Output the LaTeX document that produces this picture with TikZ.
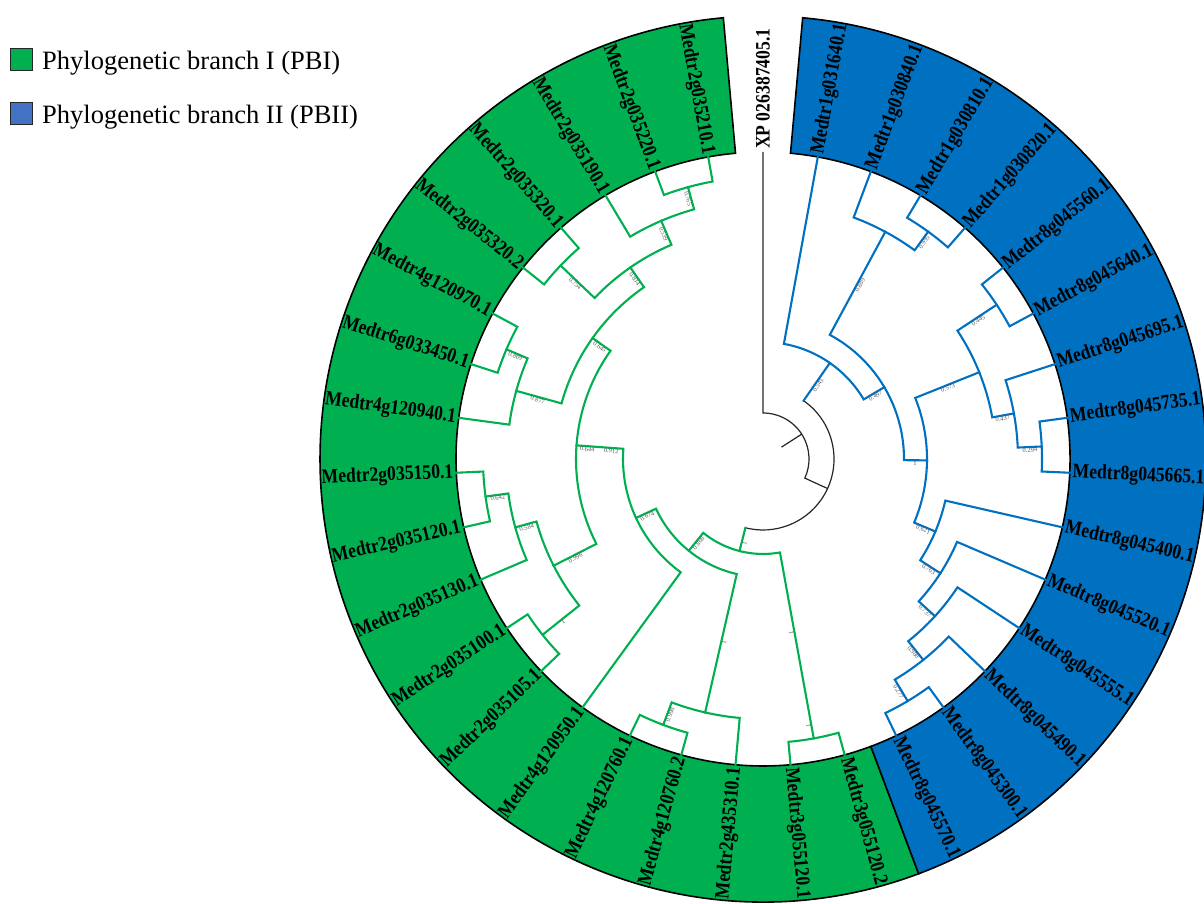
\documentclass[tikz,border=0pt]{standalone}
\usepackage{fontspec}
\setmainfont{Liberation Serif}
\definecolor{pbgreen}{HTML}{00B050}
\definecolor{pbblue}{HTML}{0070C0}
\definecolor{legblue}{HTML}{4472C4}
\newcommand\clade[5]{\draw (#2:#3) -- (#2:#1) arc[start angle=#2, end angle=#4, radius=#1] -- (#4:#5);}
\newcommand\boot[3]{\pgfmathsetmacro\bootrot{(cos(#1)<0)*180}\node[bootlab, rotate=#1-\bootrot] at (#1:#2) {#3};}
\tikzset{
  leaflab/.style={font=\fontsize{20.5}{22}\selectfont\bfseries, inner sep=1pt},
  bootlab/.style={font=\fontsize{6.5}{7}\selectfont, text=black!65, inner sep=0.6pt, anchor=north},
  ringline/.style={draw=black, line width=1.6pt},
  branch/.style={line width=2.1pt, line cap=rect},
  legbox/.style={draw=black!85, line width=1.3pt, minimum size=22pt, inner sep=0pt},
  legtext/.style={font=\fontsize{26.5}{30}\selectfont, anchor=base west, inner sep=0pt}
}
\begin{document}
\begin{tikzpicture}[x=1pt, y=1pt]
                \useasboundingbox (0,0) rectangle (1204,904);
                \node[legbox, fill=pbgreen] (key1) at (21.5,844.5) {};
                \node[legbox, fill=legblue] (key2) at (21.5,790.5) {};
                \node[legtext] (keytxt1) at (42,834) {Phylogenetic branch I (PBI)};
                \node[legtext] (keytxt2) at (42,780) {Phylogenetic branch II (PBII)};
                \begin{scope}[shift={(763,445)}]
                \filldraw[ringline, fill=pbgreen] (95.14:307) arc[start angle=95.14, end angle=290.57, radius=307] -- (290.57:443) arc[start angle=290.57, end angle=95.14, radius=443] -- cycle;
                \filldraw[ringline, fill=pbblue] (-69.43:307) arc[start angle=-69.43, end angle=84.86, radius=307] -- (84.86:443) arc[start angle=84.86, end angle=-69.43, radius=443] -- cycle;
                \begin{scope}[line width=1.2pt, draw=black!85]
                \draw (32.7:22) -- (32.7:46);
                \clade{46}{90}{307}{-24.59}{71}
                \draw (55.17:71) arc[start angle=55.17, end angle=-104.34, radius=71];
                \end{scope}
                \begin{scope}[branch, draw=pbblue]
                \draw (55.17:71) -- (55.17:117);
                \clade{117}{79.71}{307}{30.62}{141}
                \clade{141}{61.71}{258}{-0.48}{164}
                \clade{258}{69.43}{307}{54.00}{281}
                \clade{281}{59.14}{307}{48.86}{307}
                \clade{164}{21.86}{233}{-22.82}{187}
                \clade{233}{33.43}{280}{10.29}{255}
                \clade{280}{38.57}{307}{28.29}{307}
                \clade{255}{18.00}{307}{2.57}{279}
                \clade{279}{7.71}{307}{-2.57}{307}
                \clade{187}{-12.86}{307}{-32.79}{211}
                \clade{211}{-23.14}{307}{-42.43}{233}
                \clade{233}{-33.43}{307}{-51.43}{257}
                \clade{257}{-43.71}{307}{-59.14}{282}
                \clade{282}{-54.00}{307}{-64.29}{307}
                \end{scope}
                \begin{scope}[branch, draw=pbgreen]
                \draw (255.66:71) -- (255.66:95);
                \clade{95}{231.03}{118}{280.29}{284}
                \clade{284}{275.14}{307}{285.43}{307}
                \clade{118}{204.91}{140}{257.14}{260}
                \clade{260}{249.43}{284}{264.86}{307}
                \clade{284}{244.29}{307}{254.57}{307}
                \clade{140}{175.82}{187}{234.00}{307}
                \clade{187}{144.64}{209}{207.00}{235}
                \clade{209}{124.71}{233}{164.57}{256}
                \clade{233}{113.14}{259}{136.29}{280}
                \clade{259}{105.43}{282}{120.86}{307}
                \clade{282}{100.29}{307}{110.57}{307}
                \clade{280}{131.14}{307}{141.43}{307}
                \clade{256}{156.86}{279}{172.29}{307}
                \clade{279}{151.71}{307}{162.00}{307}
                \clade{235}{195.43}{257}{218.57}{282}
                \clade{257}{187.71}{280}{203.14}{307}
                \clade{280}{182.57}{307}{192.86}{307}
                \clade{282}{213.43}{307}{223.71}{307}
                \end{scope}
                \boot{55.17}{92}{0.543}
                \boot{30.62}{129}{0.497}
                \boot{61.71}{199}{0.889}
                \boot{54.00}{270}{0.995}
                \boot{-0.48}{152}{1}
                \boot{21.86}{198}{0.573}
                \boot{33.43}{256}{0.445}
                \boot{10.29}{243}{0.437}
                \boot{2.57}{267}{0.294}
                \boot{-22.82}{175}{0.621}
                \boot{-32.79}{199}{0.763}
                \boot{-42.43}{222}{0.737}
                \boot{-51.43}{245}{0.988}
                \boot{-59.14}{269}{0.277}
                \boot{255.66}{86}{1}
                \boot{231.03}{106}{0.868}
                \boot{204.91}{129}{0.674}
                \boot{175.82}{176}{0.644}
                \boot{175.82}{152}{0.912}
                \boot{144.64}{198}{0.645}
                \boot{124.71}{221}{0.834}
                \boot{113.14}{246}{0.539}
                \boot{105.43}{271}{0.765}
                \boot{136.29}{257}{0.754}
                \boot{164.57}{233}{0.877}
                \boot{156.86}{268}{0.869}
                \boot{207.00}{212}{0.996}
                \boot{195.43}{246}{0.584}
                \boot{187.71}{268}{0.642}
                \boot{218.57}{258}{1}
                \boot{257.14}{188}{1}
                \boot{249.43}{272}{0.998}
                \boot{280.29}{176}{1}
                \boot{280.29}{271}{1}
                \node[leaflab, anchor=west, rotate=90, xscale=0.86] (xp) at (90:309) {XP 026387405.1};
                \foreach \nm [count=\i] in {Medtr1g031640.1, Medtr1g030840.1, Medtr1g030810.1, Medtr1g030820.1, Medtr8g045560.1, Medtr8g045640.1, Medtr8g045695.1, Medtr8g045735.1, Medtr8g045665.1, Medtr8g045400.1, Medtr8g045520.1, Medtr8g045555.1, Medtr8g045490.1, Medtr8g045300.1, Medtr8g045570.1}{
                  \pgfmathsetmacro\la{90-\i*360/35}
                  \node[leaflab, anchor=west, rotate=\la, xscale=0.86] (b\i) at (\la:309) {\nm};
                }
                \foreach \nm [count=\i] in {Medtr2g035210.1, Medtr2g035220.1, Medtr2g035190.1, Medtr2g035320.1, Medtr2g035320.2, Medtr4g120970.1, Medtr6g033450.1, Medtr4g120940.1, Medtr2g035150.1, Medtr2g035120.1, Medtr2g035130.1, Medtr2g035100.1, Medtr2g035105.1, Medtr4g120950.1, Medtr4g120760.1, Medtr4g120760.2, Medtr2g435310.1, Medtr3g055120.1, Medtr3g055120.2}{
                  \pgfmathsetmacro\la{90+\i*360/35}
                  \ifnum\i<18
                    \node[leaflab, anchor=east, rotate=\la-180, xscale=0.86] (g\i) at (\la:309) {\nm};
                  \else
                    \node[leaflab, anchor=west, rotate=\la, xscale=0.86] (g\i) at (\la:309) {\nm};
                  \fi
                }
                \end{scope}
\end{tikzpicture}
\end{document}
